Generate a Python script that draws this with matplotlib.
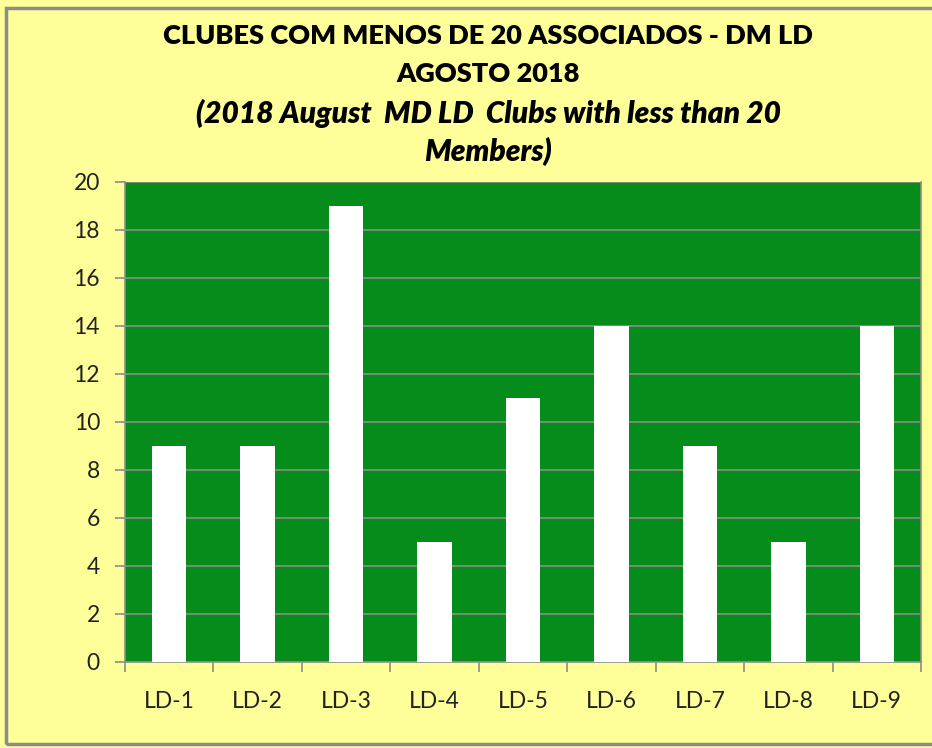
import matplotlib
matplotlib.use("Agg")
import matplotlib.pyplot as plt
from matplotlib.patches import Rectangle
import numpy as np

categories = ["LD-1", "LD-2", "LD-3", "LD-4", "LD-5", "LD-6", "LD-7", "LD-8", "LD-9"]
values = [9, 9, 19, 5, 11, 14, 9, 5, 14]
yticks = [0, 2, 4, 6, 8, 10, 12, 14, 16, 18, 20]

W, H = 932, 748
fig = plt.figure(figsize=(W / 100, H / 100), dpi=100)
fig.patch.set_facecolor("#FFFF99")

# outer chart border (right edge cropped)
fig.add_artist(Rectangle((6 / W, 1 - 744 / H), 1.2, (744 - 8) / H,
                         transform=fig.transFigure, fill=False,
                         edgecolor="#8C8C8C", linewidth=2.5, clip_on=False))

ax = fig.add_axes([125 / W, 1 - 662 / H, (921 - 125) / W, (662 - 182) / H])
ax.set_facecolor("#068C1A")
x = np.arange(len(categories))
ax.bar(x, values, width=0.39, color="white", zorder=3)
ax.set_xlim(-0.5, len(categories) - 0.5)
ax.set_ylim(0, 20)
ax.set_yticks(yticks)
ax.yaxis.grid(True, color="#8C8C8C", linewidth=1.2, zorder=1)
ax.set_axisbelow(True)

ax.set_xticks(x)
ax.set_xticklabels(categories, fontsize=16.5, family="Lato", color="#222222")
ax.set_xticks(np.arange(-0.5, len(categories)), minor=True)
ax.tick_params(axis="x", which="major", length=0, pad=21)
ax.tick_params(axis="x", which="minor", length=7, color="#8C8C8C", width=1.2)
ax.tick_params(axis="y", length=7, color="#8C8C8C", width=1.2, labelsize=16.5,
               labelcolor="#222222", pad=11)
for lab in ax.get_yticklabels():
    lab.set_family("Lato")

for s in ["left", "bottom", "right"]:
    ax.spines[s].set_color("#8C8C8C")
    ax.spines[s].set_linewidth(1.2)
ax.spines["top"].set_visible(False)

tx = 488 / W
fig.text(tx, 1 - 36 / H, "CLUBES COM MENOS DE 20 ASSOCIADOS - DM LD", ha="center", va="center",
         fontsize=19.5, fontweight="heavy", family="Lato")
fig.text(tx, 1 - 74 / H, "AGOSTO 2018", ha="center", va="center",
         fontsize=19.5, fontweight="heavy", family="Lato")
fig.text(tx, 1 - 113 / H, "(2018 August  MD LD  Clubs with less than 20", ha="center", va="center",
         fontsize=21.5, fontweight="heavy", fontstyle="italic", family="Lato")
fig.text(tx, 1 - 151 / H, "Members)", ha="center", va="center",
         fontsize=21.5, fontweight="heavy", fontstyle="italic", family="Lato")

fig.savefig("out.png", dpi=100, facecolor=fig.get_facecolor())
